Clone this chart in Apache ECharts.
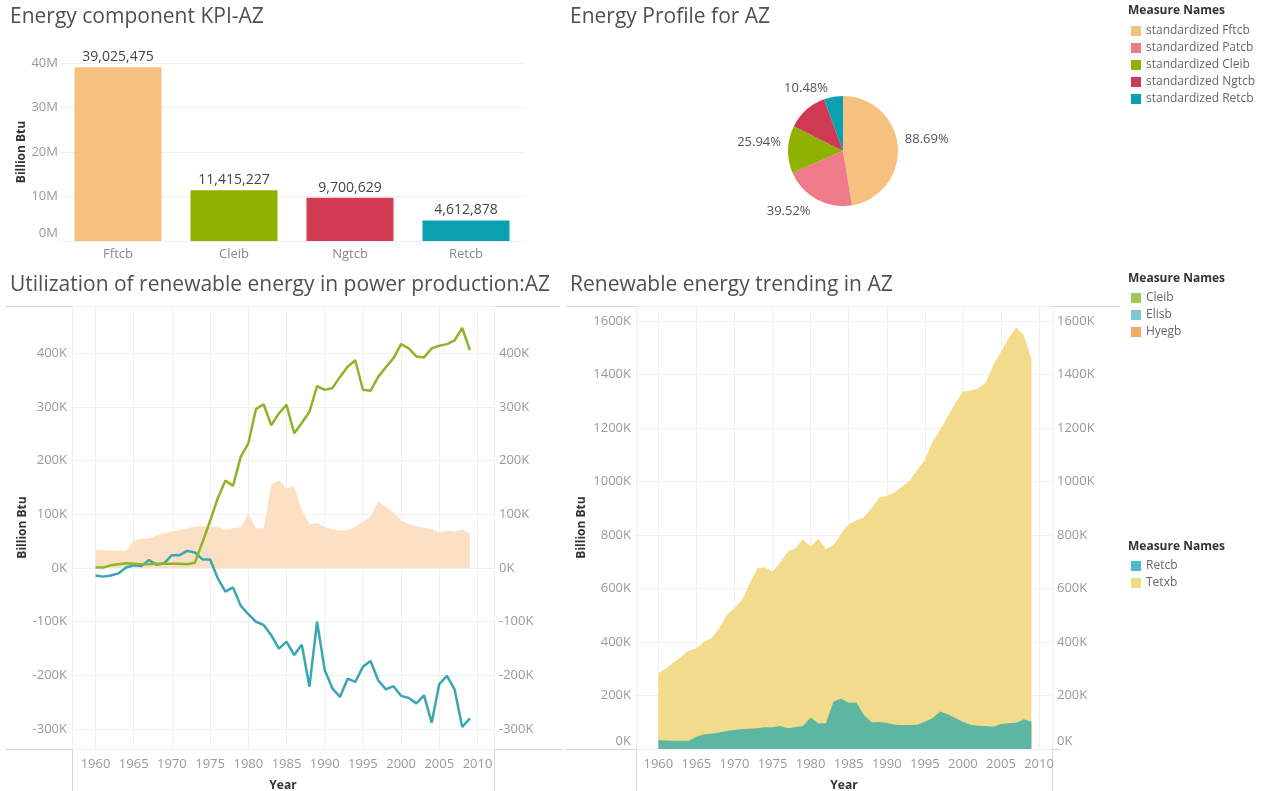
<!DOCTYPE html>
<html>
<head>
<meta charset="utf-8">
<title>AZ energy dashboard</title>
<script src="https://cdn.jsdelivr.net/npm/echarts@6/dist/echarts.min.js"></script>
<style>
html, body { margin: 0; padding: 0; background: #fff; }
#main { width: 1268px; height: 791px; }
</style>
</head>
<body>
<div id="main"></div>
<script>
// ---- data ----
var kpiNames = ['Fftcb', 'Cleib', 'Ngtcb', 'Retcb'];
var kpiValues = [39025475, 11415227, 9700629, 4612878];

var pieNames = ['standardized Fftcb', 'standardized Patcb', 'standardized Cleib', 'standardized Ngtcb', 'standardized Retcb'];
var pieValues = [88.69, 39.52, 25.94, 22.4, 10.48];

var years = [1960, 1961, 1962, 1963, 1964, 1965, 1966, 1967, 1968, 1969,
             1970, 1971, 1972, 1973, 1974, 1975, 1976, 1977, 1978, 1979,
             1980, 1981, 1982, 1983, 1984, 1985, 1986, 1987, 1988, 1989,
             1990, 1991, 1992, 1993, 1994, 1995, 1996, 1997, 1998, 1999,
             2000, 2001, 2002, 2003, 2004, 2005, 2006, 2007, 2008, 2009];

// thousand Billion Btu
var cleib = [1, 1, 5, 7, 9, 8, 7, 7, 8, 8,
             8, 8, 7, 10, 48, 88, 130, 163, 153, 207,
             232, 296, 305, 266, 288, 304, 251, 270, 291, 339,
             332, 335, 356, 375, 387, 332, 330, 356, 374, 391,
             417, 409, 394, 392, 409, 414, 417, 424, 447, 406];
var elisb = [-14, -16, -14, -10, 1, 5, 4, 15, 6, 9,
             24, 24, 32, 29, 16, 16, -19, -44, -36, -70,
             -86, -100, -106, -125, -150, -137, -162, -143, -221, -100,
             -190, -224, -240, -206, -212, -184, -173, -209, -226, -220,
             -238, -242, -252, -237, -288, -216, -201, -226, -296, -280];
var hyegb = [34, 33, 32, 32, 32, 51, 55, 55, 61, 65,
             68, 71, 74, 77, 78, 77, 77, 71, 74, 76,
             101, 74, 74, 155, 163, 148, 153, 108, 83, 83,
             77, 72, 70, 71, 77, 86, 96, 124, 114, 103,
             89, 82, 78, 75, 73, 66, 70, 68, 72, 65];
var retcb = [34, 32, 31, 31, 31, 46, 55, 57, 62, 67,
             71, 75, 76, 78, 81, 81, 86, 78, 82, 86,
             118, 96, 96, 177, 189, 173, 174, 127, 100, 101,
             98, 91, 90, 90, 91, 102, 115, 140, 130, 116,
             102, 91, 87, 86, 83, 93, 96, 98, 111, 102];
var tetxb = [283, 302, 323, 345, 368, 376, 401, 414, 451, 501,
             526, 557, 619, 675, 679, 663, 697, 738, 750, 785,
             756, 785, 748, 763, 804, 841, 854, 866, 900, 940,
             947, 958, 981, 1003, 1043, 1080, 1149, 1192, 1242, 1292,
             1336, 1339, 1348, 1369, 1435, 1485, 1535, 1576, 1548, 1457];

var kpiColors = ['#f6c07e', '#8fb200', '#d13c52', '#0aa0b0'];
var pieColors = ['#f6c07e', '#ee7a8a', '#8fb200', '#cf3a52', '#0aa0b0'];

// ---- helpers ----
var FONT = 'Open Sans';
var GRID = '#f0f0f0';
var BORDER = '#d6d6d6';

function pairs(vals) {
  return years.map(function (y, i) { return [y, vals[i]]; });
}
function kFmt(v) { return Math.abs(v % 100) < 1e-6 ? v + 'K' : ''; }
// tableau nudges a zero label that sits on the pane floor up a bit
function kFmtLowZero(v) { return v === 0 ? '{low|0K}' : kFmt(v); }
function yearFmt(v) { return Math.abs(v % 5) < 1e-6 ? String(v) : ''; }
function hline(x1, x2, y) {
  return { type: 'line', silent: true, shape: { x1: x1, y1: y, x2: x2, y2: y }, style: { stroke: BORDER, lineWidth: 1 } };
}
function vline(x, y1, y2) {
  return { type: 'line', silent: true, shape: { x1: x, y1: y1, x2: x, y2: y2 }, style: { stroke: BORDER, lineWidth: 1 } };
}

var titleStyle = { fontFamily: FONT, fontSize: 21, fontWeight: 'normal', color: '#505050' };
var legTitleStyle = { fontFamily: FONT, fontSize: 12, fontWeight: 'bold', color: '#333' };
var tickLabel = { color: '#999', fontSize: 13, fontFamily: FONT };
var lowRich = { low: { color: '#999', fontSize: 13, fontFamily: FONT, padding: [0, 0, 16, 0] } };
var nameStyle = { color: '#333', fontSize: 12, fontWeight: 'bold', fontFamily: FONT };
var pieText = { color: '#555', fontSize: 13, fontFamily: FONT };

function legendBox(top, names, colors) {
  return {
    left: 1131, top: top, orient: 'vertical', padding: 0,
    itemWidth: 10, itemHeight: 10, itemGap: 5, icon: 'rect',
    selectedMode: false,
    textStyle: { color: '#666', fontSize: 12, fontFamily: FONT },
    data: names.map(function (n, i) {
      return { name: n, icon: 'rect', itemStyle: { color: colors[i], borderWidth: 0 } };
    })
  };
}

function yearAxis(grid, min, max) {
  return {
    gridIndex: grid, type: 'value', min: min, max: max, splitNumber: 11,
    name: 'Year', nameLocation: 'middle', nameGap: 31, nameTextStyle: nameStyle,
    axisLine: { show: false }, axisTick: { show: false },
    axisLabel: Object.assign({ formatter: yearFmt, margin: 9, showMinLabel: false, showMaxLabel: false }, tickLabel),
    splitLine: { show: true, lineStyle: { color: GRID } }
  };
}
function kAxis(grid, min, max, pos, named, gap) {
  return {
    gridIndex: grid, type: 'value', min: min, max: max, splitNumber: 8, position: pos,
    name: named ? 'Billion Btu' : '', nameLocation: 'middle', nameGap: gap, nameTextStyle: nameStyle,
    axisLine: { show: false }, axisTick: { show: false },
    axisLabel: Object.assign({
      formatter: min === 0 ? kFmtLowZero : kFmt, rich: lowRich, margin: 5,
      showMinLabel: min === 0, showMaxLabel: false
    }, tickLabel),
    splitLine: { show: named, lineStyle: { color: GRID } }
  };
}

var chart = echarts.init(document.getElementById('main'));
var option = {
  animation: false,
  backgroundColor: '#fff',
  textStyle: { fontFamily: FONT },
  title: [
    { text: 'Energy component KPI-AZ', left: 10, top: 7, padding: 0, textStyle: titleStyle },
    { text: 'Energy Profile for AZ', left: 570, top: 7, padding: 0, textStyle: titleStyle },
    { text: 'Utilization of renewable energy in power production:AZ', left: 10, top: 275, padding: 0, textStyle: titleStyle },
    { text: 'Renewable energy trending in AZ', left: 570, top: 275, padding: 0, textStyle: titleStyle },
    { text: 'Measure Names', left: 1128, top: 5, padding: 0, textStyle: legTitleStyle },
    { text: 'Measure Names', left: 1128, top: 273, padding: 0, textStyle: legTitleStyle },
    { text: 'Measure Names', left: 1128, top: 541, padding: 0, textStyle: legTitleStyle }
  ],
  legend: [
    legendBox(25, pieNames, pieColors),
    legendBox(292, ['Cleib', 'Elisb', 'Hyegb'], ['#a3c65a', '#82c6d2', '#f4aa60']),
    legendBox(560, ['Retcb', 'Tetxb'], ['#4fbac6', '#f2d98a'])
  ],
  grid: [
    { left: 60, top: 63, width: 464, height: 178, outerBoundsMode: 'none' },
    { left: 72, top: 306, width: 422, height: 443, outerBoundsMode: 'none' },
    { left: 636, top: 306, width: 416, height: 443, outerBoundsMode: 'none' }
  ],
  xAxis: [
    {
      gridIndex: 0, type: 'category', data: kpiNames,
      axisLine: { show: false }, axisTick: { show: false },
      axisLabel: { color: '#888', fontSize: 13, fontFamily: FONT, margin: 7 }
    },
    yearAxis(1, 1956.92, 2012.16),
    yearAxis(2, 1957.07, 2011.7)
  ],
  yAxis: [
    {
      gridIndex: 0, type: 'value', min: 0, max: 40000000, interval: 10000000,
      name: 'Billion Btu', nameLocation: 'middle', nameGap: 31, nameTextStyle: nameStyle,
      axisLine: { show: false }, axisTick: { show: false },
      axisLabel: Object.assign({
        formatter: function (v) { return v === 0 ? '{low|0M}' : v / 1000000 + 'M'; },
        rich: lowRich, margin: 2
      }, tickLabel),
      splitLine: { lineStyle: { color: GRID } }
    },
    kAxis(1, -337, 488, 'left', true, 43),
    kAxis(1, -337, 488, 'right', false, 0),
    kAxis(2, 0, 1656, 'left', true, 48),
    kAxis(2, 0, 1656, 'right', false, 0)
  ],
  series: [
    {
      name: 'KPI', type: 'bar', xAxisIndex: 0, yAxisIndex: 0, barCategoryGap: '25%',
      data: kpiValues.map(function (v, i) { return { value: v, itemStyle: { color: kpiColors[i] } }; }),
      label: {
        show: true, position: 'top', distance: 3, color: '#444', fontSize: 14, fontFamily: FONT,
        formatter: function (p) { return p.value.toLocaleString('en-US'); }
      }
    },
    {
      name: 'Energy Profile', type: 'pie', center: [843, 151], radius: 55,
      startAngle: 90, clockwise: true, avoidLabelOverlap: false,
      itemStyle: { borderWidth: 0 },
      label: {
        show: true, position: 'outside', color: '#555', fontSize: 13, fontFamily: FONT,
        formatter: function (p) {
          return (p.dataIndex === 1 ? '{dn|' : '{up|') + p.value.toFixed(2) + '%}';
        },
        rich: {
          up: Object.assign({ padding: [0, 0, 14, 0] }, pieText),
          dn: Object.assign({ padding: [20, 0, 0, 0] }, pieText)
        }
      },
      labelLine: { show: false, length: 2, length2: 0 },
      data: pieNames.map(function (n, i) {
        var d = { name: n, value: pieValues[i], itemStyle: { color: pieColors[i] } };
        if (i === 3) d.label = { show: false };
        return d;
      })
    },
    {
      name: 'Hyegb', type: 'line', xAxisIndex: 1, yAxisIndex: 1, data: pairs(hyegb),
      symbol: 'none', lineStyle: { width: 0 }, itemStyle: { color: '#f4aa60' },
      areaStyle: { color: '#fbe0c3', opacity: 1 }, z: 1
    },
    {
      name: 'Cleib', type: 'line', xAxisIndex: 1, yAxisIndex: 1, data: pairs(cleib),
      symbol: 'none', lineStyle: { width: 2.5, color: '#8db52a' }, itemStyle: { color: '#8db52a' }, z: 3
    },
    {
      name: 'Elisb', type: 'line', xAxisIndex: 1, yAxisIndex: 1, data: pairs(elisb),
      symbol: 'none', lineStyle: { width: 2.5, color: '#3aa6b4' }, itemStyle: { color: '#3aa6b4' }, z: 2
    },
    {
      name: 'Tetxb', type: 'line', xAxisIndex: 2, yAxisIndex: 3, data: pairs(tetxb),
      symbol: 'none', lineStyle: { width: 0 }, itemStyle: { color: '#f2dc8c' },
      areaStyle: { color: '#f2dc8c', opacity: 1 }, z: 1
    },
    {
      name: 'Retcb', type: 'line', xAxisIndex: 2, yAxisIndex: 3, data: pairs(retcb),
      symbol: 'none', lineStyle: { width: 0 }, itemStyle: { color: '#5db6a2' },
      areaStyle: { color: '#5db6a2', opacity: 1 }, z: 2
    }
  ],
  graphic: [
    hline(5, 560, 306.5), hline(5, 563, 749.5),
    vline(72.5, 306, 791), vline(494.5, 306, 791),
    hline(566, 1120, 306.5), hline(566, 1060, 749.5),
    vline(636.5, 306, 791), vline(1052.5, 306, 791)
  ]
};
chart.setOption(option);
</script>
</body>
</html>
